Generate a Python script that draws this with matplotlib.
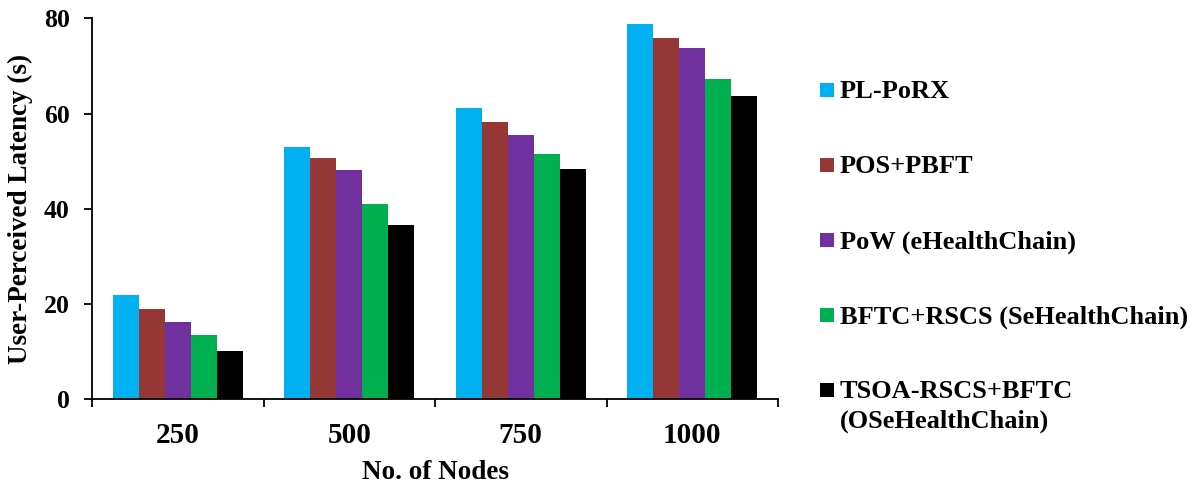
import matplotlib
matplotlib.use("Agg")
import matplotlib.pyplot as plt
from matplotlib.patches import Rectangle
import numpy as np

plt.rcParams['font.family'] = ['Liberation Serif', 'DejaVu Serif']
plt.rcParams['font.weight'] = 'bold'

categories = ["250", "500", "750", "1000"]
series = ["PL-PoRX", "POS+PBFT", "PoW (eHealthChain)",
          "BFTC+RSCS (SeHealthChain)", "TSOA-RSCS+BFTC\n(OSeHealthChain)"]
colors = ["#00B0F0", "#953735", "#7030A0", "#00B050", "#000000"]
values = [
    [22.0, 53.0, 61.1, 78.9],
    [18.9, 50.7, 58.2, 75.9],
    [16.3, 48.1, 55.4, 73.8],
    [13.4, 41.0, 51.6, 67.2],
    [10.1, 36.5, 48.3, 63.7],
]
y_ticks = [0, 20, 40, 60, 80]

W, H = 1200, 486
fig = plt.figure(figsize=(W / 100, H / 100), dpi=100)
ax = fig.add_axes([92 / W, 1 - 399.3 / H, (778 - 92) / W, (399.3 - 18.3) / H])

x = np.arange(len(categories))
bw = 0.1515
n = len(series)
for i, (lab, col, vals) in enumerate(zip(series, colors, values)):
    ax.bar(x + (i - (n - 1) / 2) * bw, vals, width=bw, color=col, label=lab,
           edgecolor='none', zorder=2)

ax.set_xlim(-0.5, len(categories) - 0.5)
ax.set_ylim(0, 80)
ax.set_yticks(y_ticks)
ax.set_yticklabels([str(v) for v in y_ticks], fontsize=18.5, fontweight='bold')
ax.set_xticks(x)
ax.set_xticklabels(categories, fontsize=21, fontweight='bold')
ax.set_xticks(np.arange(-0.5, len(categories)), minor=True)
ax.tick_params(axis='x', which='major', length=0, pad=16)
ax.tick_params(axis='x', which='minor', length=6, width=1.3, direction='out')
ax.tick_params(axis='y', which='major', length=6, width=1.3, direction='out', pad=10)

for s in ['top', 'right']:
    ax.spines[s].set_visible(False)
for s in ['left', 'bottom']:
    ax.spines[s].set_linewidth(1.3)
    ax.spines[s].set_color('black')

ax.set_ylabel("User-Perceived Latency (s)", fontsize=19.5, fontweight='bold', labelpad=8)
ax.set_xlabel("No. of Nodes", fontsize=19.5, fontweight='bold', labelpad=8)

# manual legend (squares aligned with first text line)
row0 = 98.3
step = 75.0
line_gap = 29.5
for i, (lab, col) in enumerate(zip(series, colors)):
    base = row0 + i * step
    sq = 13.5
    fig.patches.append(Rectangle((820 / W, 1 - (base - 1.5) / H), sq / W, sq / H,
                                 transform=fig.transFigure, facecolor=col,
                                 edgecolor='none'))
    for k, line in enumerate(lab.split("\n")):
        fig.text(840 / W, 1 - (base + k * line_gap) / H, line, fontsize=19,
                 fontweight='bold', va='baseline', ha='left')

fig.savefig("out.png", dpi=100)
